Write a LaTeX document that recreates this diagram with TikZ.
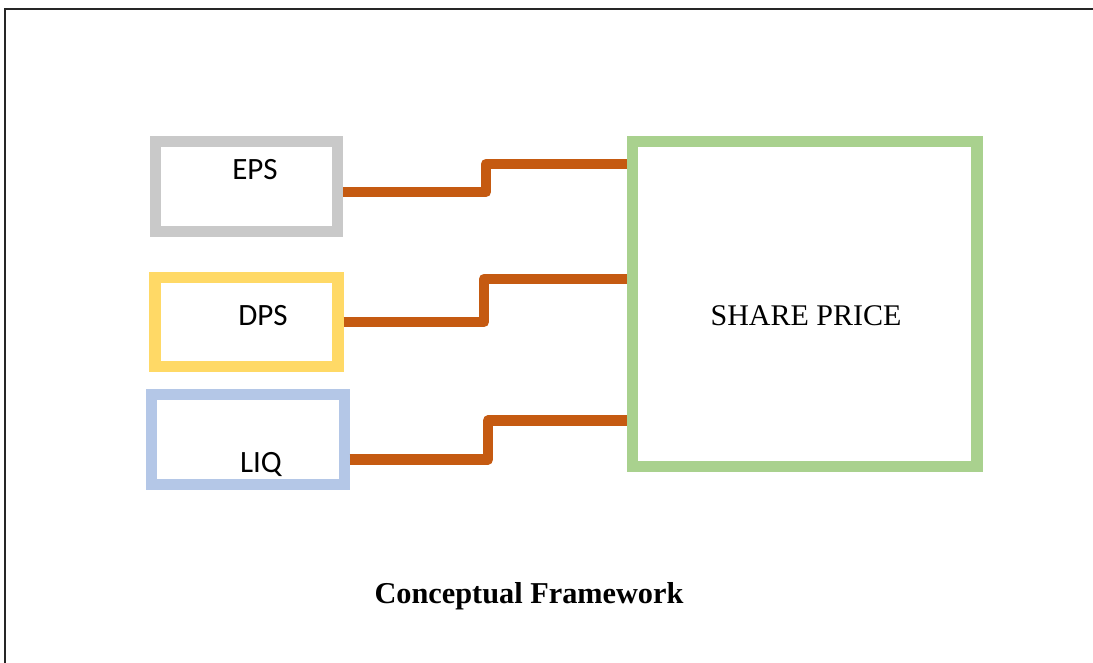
\documentclass[tikz,border=0pt]{standalone}
\usepackage{fontspec}
\setmainfont{Liberation Serif}
\newfontfamily\boxfont{Carlito}
\begin{document}
\begin{tikzpicture}[x=1pt,y=-1pt,
  frameline/.style={draw=black!85,line width=2.8pt},
  varbox/.style={draw,rectangle,inner sep=0pt,line width=10.8pt},
  boxlabel/.style={font=\boxfont\fontsize{31}{36}\selectfont,anchor=base,inner sep=0pt},
  link/.style={draw=linkc,line width=10.5pt,line join=round}]
\definecolor{epsc}{HTML}{C9C9C9}
\definecolor{dpsc}{HTML}{FFD966}
\definecolor{liqc}{HTML}{B4C7E7}
\definecolor{pricec}{HTML}{A9D18E}
\definecolor{linkc}{HTML}{C55A11}
\useasboundingbox (0,0) rectangle (1093,662);
% page frame
\draw[frameline] (1095,9) -- (5,9) -- (5,665);
% variable boxes
\node[varbox,draw=epsc,minimum width=182.2pt,minimum height=89.9pt] (eps) at (246.4,186.3) {};
\node[varbox,draw=dpsc,line width=11.3pt,minimum width=183pt,minimum height=89.2pt] (dps) at (246.5,322.1) {};
\node[varbox,draw=liqc,line width=11pt,minimum width=193pt,minimum height=90pt] (liq) at (247.7,439.2) {};
\node[varbox,draw=pricec,line width=11.5pt,minimum width=344.5pt,minimum height=325.2pt] (price) at (804.75,304.1) {};
% box texts
\node[boxlabel] (epsT) at (255,179.3) {EPS};
\node[boxlabel] (dpsT) at (263,325) {DPS};
\node[boxlabel] (liqT) at (261,472.7) {LIQ};
\node[font=\fontsize{30}{36}\selectfont,anchor=base,inner sep=0pt] (priceT) at (806,325.7) {SHARE PRICE};
\node[font=\bfseries\fontsize{30.3}{36}\selectfont,anchor=base,inner sep=0pt] (title) at (529,603.3) {Conceptual Framework};
% stepped connectors
\coordinate (e1) at (486,192);
\coordinate (e2) at (486,164);
\coordinate (d1) at (484,322);
\coordinate (d2) at (484,279);
\coordinate (l1) at (488,459.5);
\coordinate (l2) at (488,420.5);
\draw[link] (eps.east |- e1) -- (e1) -- (e2) -- (price.west |- e2);
\draw[link] (dps.east |- d1) -- (d1) -- (d2) -- (price.west |- d2);
\draw[link] (liq.east |- l1) -- (l1) -- (l2) -- (price.west |- l2);
\end{tikzpicture}
\end{document}
